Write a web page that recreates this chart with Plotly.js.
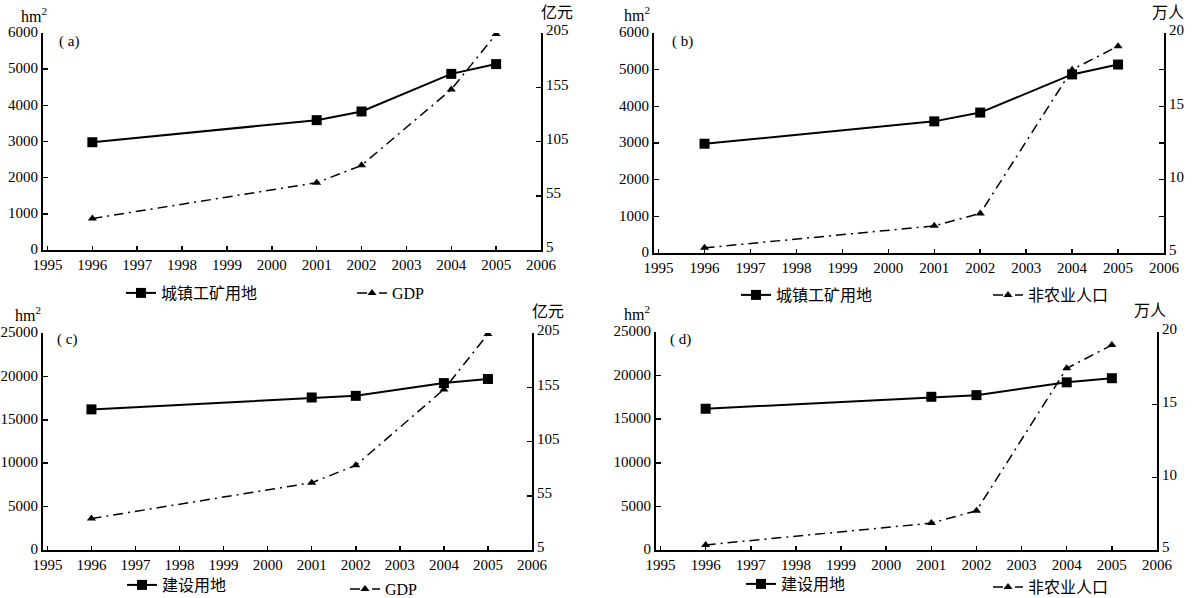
<!DOCTYPE html>
<html>
<head>
<meta charset="utf-8">
<script src="https://cdn.plot.ly/plotly-3.0.1.min.js"></script>
<style>
  html, body { margin: 0; padding: 0; background: #fff; }
  #chart { width: 1195px; height: 598px; }
</style>
</head>
<body>
<div id="chart"></div>
<script>
// ---- data ----
const years = [1996, 2001, 2002, 2004, 2005];
const urbanIndustrialLand = [2980, 3590, 3830, 4870, 5140];   // 城镇工矿用地 (hm²)
const constructionLand = [16200, 17570, 17760, 19230, 19700];  // 建设用地 (hm²)
const gdp = [34, 67, 83, 153, 204];                             // GDP (亿元)
const nonAgPopulation = [5.35, 6.85, 7.7, 17.5, 19.1];          // 非农业人口 (万人)
const xTickYears = [1995, 1996, 1997, 1998, 1999, 2000, 2001, 2002, 2003, 2004, 2005, 2006];
const panelLabels = ['( a)', '( b)', '( c)', '( d)'];
const landNames = ['城镇工矿用地', '城镇工矿用地', '建设用地', '建设用地'];
const driverNames = ['GDP', '非农业人口', 'GDP', '非农业人口'];
const rightUnits = ['亿元', '万人', '亿元', '万人'];

// ---- layout helpers ----
const W = 1195, H = 598;
const fx = p => p / W;
const fy = p => 1 - p / H;
const SERIF = 'Liberation Serif';
const CJK = 'Noto Sans CJK SC';

const panels = [
  {x0: 43, x1: 541, y0: 33, y1: 250, land: urbanIndustrialLand, landMax: 6000, landDtick: 1000,
   drv: gdp, drvRange: [5, 205], drvDtick: 50, minor: null,
   hm: [34, 15], unit: [557, 11], lab: [69, 42],
   leg1: [121, 293], leg2: [352, 293]},
  {x0: 654, x1: 1164, y0: 33, y1: 253, land: urbanIndustrialLand, landMax: 6000, landDtick: 1000,
   drv: nonAgPopulation, drvRange: [5, 20], drvDtick: 5, minor: 2.5,
   hm: [637, 14], unit: [1168, 11], lab: [682, 42],
   leg1: [736, 295], leg2: [988, 295]},
  {x0: 43, x1: 532, y0: 333, y1: 550, land: constructionLand, landMax: 25000, landDtick: 5000,
   drv: gdp, drvRange: [5, 205], drvDtick: 50, minor: null,
   hm: [28, 314], unit: [548, 310], lab: [67, 339],
   leg1: [122, 585], leg2: [345, 589]},
  {x0: 656, x1: 1157, y0: 332, y1: 550, land: constructionLand, landMax: 25000, landDtick: 5000,
   drv: nonAgPopulation, drvRange: [5, 20], drvDtick: 5, minor: null,
   hm: [637, 313], unit: [1150, 309], lab: [680, 339],
   leg1: [741, 584], leg2: [988, 587]}
];

const layout = {
  width: W, height: H,
  margin: {l: 0, r: 0, t: 0, b: 0, autoexpand: false},
  paper_bgcolor: '#fff', plot_bgcolor: 'rgba(0,0,0,0)',
  showlegend: true,
  font: {family: SERIF, size: 15, color: '#000'},
  annotations: [],
};
const traces = [];

const tickFont = {family: SERIF, size: 15, color: '#000'};

panels.forEach((p, i) => {
  const n = i + 1;
  const xa = 'xaxis' + (n === 1 ? '' : n);
  const xid = 'x' + (n === 1 ? '' : n);
  const yL = 2 * i + 1, yR = 2 * i + 2;
  const yaL = 'yaxis' + (yL === 1 ? '' : yL);
  const yaR = 'yaxis' + yR;
  const yidL = 'y' + (yL === 1 ? '' : yL);
  const yidR = 'y' + yR;
  const xdom = [fx(p.x0), fx(p.x1)];
  const ydom = [fy(p.y1), fy(p.y0)];

  layout[xa] = {
    domain: xdom, anchor: yidL, range: [1994.9, 2006],
    tickvals: xTickYears, ticktext: xTickYears.map(String),
    ticks: 'inside', ticklen: 4, tickwidth: 1.5, tickcolor: '#000',
    ticklabelstandoff: 0,
    showline: true, linewidth: 2, linecolor: '#000',
    showgrid: false, zeroline: false, fixedrange: true,
    tickfont: tickFont
  };
  layout[yaL] = {
    domain: ydom, anchor: xid, range: [0, p.landMax], dtick: p.landDtick, tick0: 0,
    ticks: 'inside', ticklen: 5, tickwidth: 1.5, tickcolor: '#000',
    ticklabelshift: -1,
    exponentformat: 'none', separatethousands: false, tickformat: 'd',
    showline: true, linewidth: 2, linecolor: '#000',
    showgrid: false, zeroline: false, fixedrange: true,
    tickfont: tickFont
  };
  layout[yaR] = {
    domain: ydom, anchor: xid, overlaying: yidL, side: 'right',
    range: p.drvRange, dtick: p.drvDtick, tick0: p.drvRange[0],
    ticks: 'inside', ticklen: 5, tickwidth: 1.5, tickcolor: '#000',
    ticklabelshift: -3,
    showline: true, linewidth: 2, linecolor: '#000',
    showgrid: false, zeroline: false, fixedrange: true,
    tickfont: tickFont
  };
  if (p.minor) {
    layout[yaR].minor = {dtick: p.minor, ticks: 'inside', ticklen: 5, tickwidth: 1.5, tickcolor: '#000', showgrid: false};
  }

  const legA = 'legend' + (2 * i + 1 === 1 ? '' : 2 * i + 1);
  const legB = 'legend' + (2 * i + 2);
  layout[legA] = {
    x: fx(p.leg1[0]), y: fy(p.leg1[1]), xanchor: 'left', yanchor: 'middle',
    orientation: 'h', bgcolor: 'rgba(0,0,0,0)', borderwidth: 0,
    font: {family: CJK, size: 16, color: '#000'}
  };
  layout[legB] = {
    x: fx(p.leg2[0]), y: fy(p.leg2[1]), xanchor: 'left', yanchor: 'middle',
    orientation: 'h', bgcolor: 'rgba(0,0,0,0)', borderwidth: 0,
    font: {family: driverNames[i] === 'GDP' ? SERIF : CJK, size: 16, color: '#000'}
  };

  traces.push({
    type: 'scatter', mode: 'lines+markers', x: years, y: p.land,
    xaxis: xid, yaxis: yidL, name: landNames[i], legend: legA,
    line: {color: '#000', width: 2},
    marker: {symbol: 'square', size: 10, color: '#000'},
    hoverinfo: 'x+y'
  });
  traces.push({
    type: 'scatter', mode: 'lines+markers', x: years, y: p.drv,
    xaxis: xid, yaxis: yidR, name: driverNames[i], legend: legB,
    line: {color: '#000', width: 1.5, dash: '10px,5px,2px,5px'},
    marker: {symbol: 'triangle-up', size: 8, color: '#000'},
    hoverinfo: 'x+y'
  });

  layout.annotations.push(
    {xref: 'paper', yref: 'paper', x: fx(p.hm[0]), y: fy(p.hm[1]), text: 'hm<sup>2</sup>',
     showarrow: false, xanchor: 'center', yanchor: 'middle', font: {family: SERIF, size: 16, color: '#000'}},
    {xref: 'paper', yref: 'paper', x: fx(p.unit[0]), y: fy(p.unit[1]), text: rightUnits[i],
     showarrow: false, xanchor: 'center', yanchor: 'middle', font: {family: CJK, size: 16, color: '#000'}},
    {xref: 'paper', yref: 'paper', x: fx(p.lab[0]), y: fy(p.lab[1]), text: panelLabels[i],
     showarrow: false, xanchor: 'center', yanchor: 'middle', font: {family: SERIF, size: 15, color: '#000'}}
  );
});

Plotly.newPlot('chart', traces, layout, {displayModeBar: false, staticPlot: true});
</script>
</body>
</html>
